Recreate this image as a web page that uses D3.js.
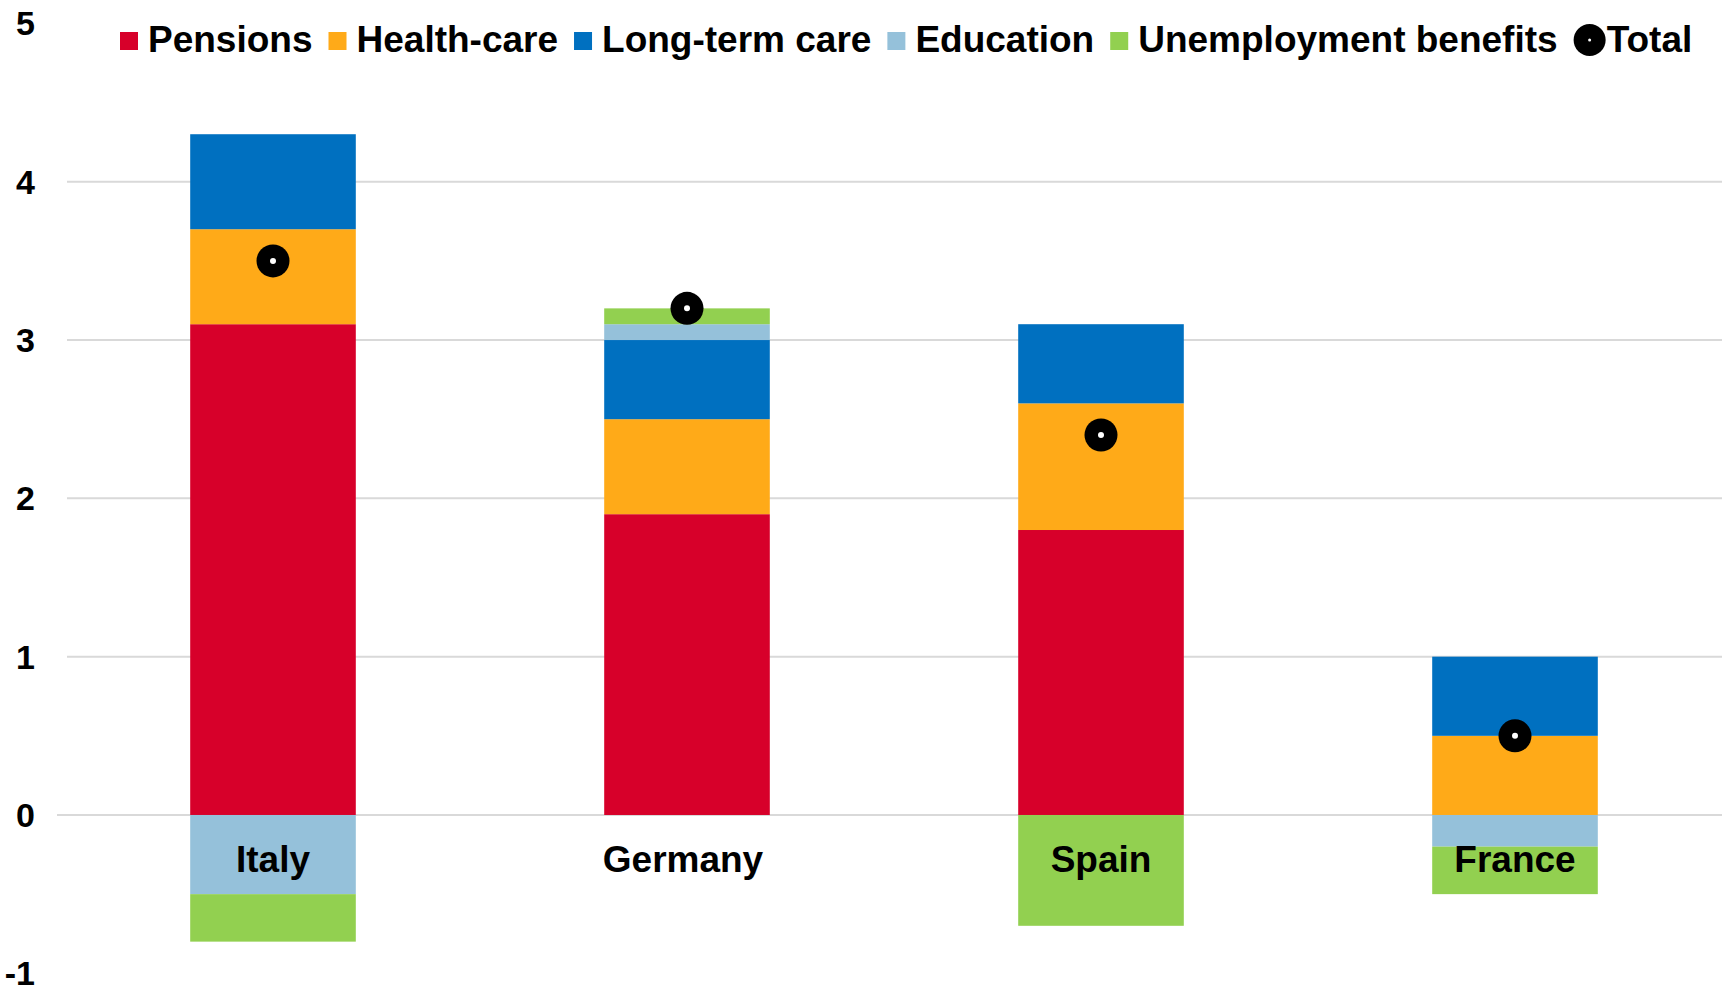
<!DOCTYPE html>
<html>
<head>
<meta charset="utf-8">
<script src="https://cdn.jsdelivr.net/npm/d3@7"></script>
<style>
  html, body { margin: 0; padding: 0; background: #ffffff; }
  svg { display: block; }
  text { font-family: "Liberation Sans", Arial, sans-serif; font-weight: bold; fill: #000; }
</style>
</head>
<body>
<svg id="chart" width="1727" height="989"></svg>
<script>
// Contributions to the change in spending, by country (percentage points)
const countries = ["Italy", "Germany", "Spain", "France"];
const seriesNames = ["Pensions", "Health-care", "Long-term care", "Education", "Unemployment benefits"];
const seriesColors = ["#d7002a", "#ffaa18", "#0070c0", "#95c1da", "#92d050"];

const pensions     = [3.1, 1.9, 1.8, 0.0];
const healthCare   = [0.6, 0.6, 0.8, 0.5];
const longTermCare = [0.6, 0.5, 0.5, 0.5];
const education    = [-0.5, 0.1, 0.0, -0.2];
const unemployment = [-0.3, 0.1, -0.7, -0.3];
const total        = [3.5, 3.2, 2.4, 0.5];

const yTicks = [-1, 0, 1, 2, 3, 4, 5];
const gridTicks = [0, 1, 2, 3, 4];

const seriesValues = [pensions, healthCare, longTermCare, education, unemployment];
const rows = countries.map((c, i) => {
  const r = { country: c };
  seriesNames.forEach((s, k) => { r[s] = seriesValues[k][i]; });
  return r;
});

const svg = d3.select("#chart");

const x = d3.scaleBand()
  .domain(countries)
  .range([66, 1722])
  .paddingInner(0.6)
  .paddingOuter(0.3);

const y = d3.scaleLinear()
  .domain([-1, 5])
  .range([973.3, 23.4]);

// Horizontal gridlines
svg.append("g").selectAll("line")
  .data(gridTicks)
  .join("line")
  .attr("x1", d => d === 0 ? 57 : 67)
  .attr("x2", 1722)
  .attr("y1", d => y(d))
  .attr("y2", d => y(d))
  .attr("stroke", "#d9d9d9")
  .attr("stroke-width", 2);

// Y tick labels
svg.append("g").selectAll("text")
  .data(yTicks)
  .join("text")
  .attr("x", 35)
  .attr("y", d => y(d))
  .attr("dy", "0.35em")
  .attr("text-anchor", "end")
  .style("font-size", "34px")
  .text(d => d);

// Stacked bars (positive values stack up, negative values stack down)
const stacked = d3.stack()
  .keys(seriesNames)
  .offset(d3.stackOffsetDiverging)(rows);

svg.append("g").selectAll("g")
  .data(stacked)
  .join("g")
  .attr("fill", (d, i) => seriesColors[i])
  .selectAll("rect")
  .data(d => d)
  .join("rect")
  .attr("x", d => x(d.data.country))
  .attr("width", x.bandwidth())
  .attr("y", d => y(Math.max(d[0], d[1])))
  .attr("height", d => Math.abs(y(d[0]) - y(d[1])));

// Category labels below the zero line
svg.append("g").selectAll("text")
  .data(countries)
  .join("text")
  .attr("x", d => x(d) + x.bandwidth() / 2 - (d === "Germany" ? 4 : 0))
  .attr("y", 872)
  .attr("text-anchor", "middle")
  .style("font-size", "37px")
  .text(d => d);

// Total markers
const totals = svg.append("g").selectAll("g")
  .data(countries.map((c, i) => ({ country: c, value: total[i] })))
  .join("g")
  .attr("transform", d => `translate(${x(d.country) + x.bandwidth() / 2},${y(d.value)})`);
totals.append("circle").attr("r", 16.5).attr("fill", "#000");
totals.append("circle").attr("r", 3).attr("fill", "#fff");

// Legend
const legend = svg.append("g");
let lx = 120;
const baseY = 52;
seriesNames.forEach((name, i) => {
  legend.append("rect")
    .attr("x", lx).attr("y", 32)
    .attr("width", 18).attr("height", 18)
    .attr("fill", seriesColors[i]);
  const t = legend.append("text")
    .attr("x", lx + 28).attr("y", baseY)
    .style("font-size", "37px")
    .text(name);
  lx += 28 + t.node().getComputedTextLength() + 16;
});
legend.append("circle").attr("cx", lx + 16).attr("cy", 40).attr("r", 16).attr("fill", "#000");
legend.append("circle").attr("cx", lx + 16).attr("cy", 40).attr("r", 1.5).attr("fill", "#fff");
legend.append("text")
  .attr("x", lx + 33).attr("y", baseY)
  .style("font-size", "37px")
  .text("Total");
</script>
</body>
</html>
